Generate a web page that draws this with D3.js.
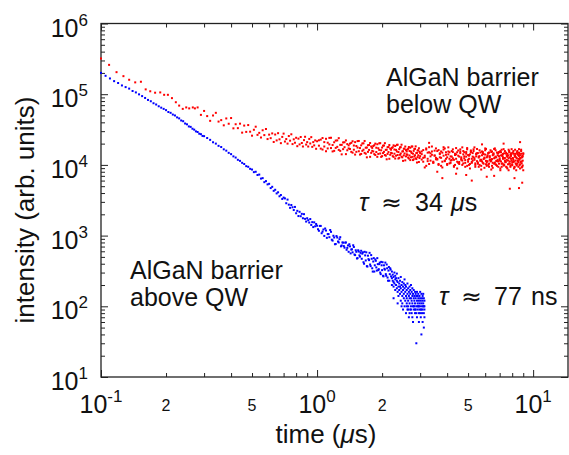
<!DOCTYPE html>
<html>
<head>
<meta charset="utf-8">
<script src="https://cdn.jsdelivr.net/npm/d3@7"></script>
<style>
  body { margin: 0; background: #fff; }
  text { font-family: "Liberation Sans", Arial, sans-serif; fill: #111; }
</style>
</head>
<body>
<div id="chart"></div>
<script>
// rows: [time (µs), intensity, intensity, ...]
const blueRows = [
  [0.100,200000],[0.105,182000],[0.110,167000],[0.115,153000],[0.120,144000],[0.125,133000],[0.130,126000],
  [0.135,120000],[0.140,111000],[0.145,106000],[0.150,99500],[0.155,94000],[0.160,88500],[0.165,83000],
  [0.170,79500],[0.175,74500],[0.180,71500],[0.185,67500],[0.190,64500],[0.195,62000],[0.200,59500],
  [0.205,56000],[0.210,54500],[0.215,51500],[0.220,50000],[0.225,47000],[0.230,45500],[0.235,42500],
  [0.240,41500],[0.245,38500],[0.250,37500],[0.255,35000],[0.260,34500],[0.265,32500],[0.270,31500],
  [0.275,29800],[0.280,29200],[0.285,27600],[0.290,27200],[0.295,25700],[0.300,25500],
  [0.31,24000],[0.32,22600],[0.33,20900],[0.34,20000],[0.35,18600],[0.36,17900],[0.37,16600],[0.38,15900],
  [0.39,14800],[0.40,14200],[0.41,13200],[0.42,12700],[0.43,11800],[0.44,11400],[0.45,10700],[0.46,10300],
  [0.47,9600],[0.48,9400],[0.49,8800],[0.50,8600],[0.51,7900],[0.52,8000],[0.53,7200],[0.54,7300],
  [0.55,6400],[0.56,6500],[0.57,5700],[0.58,5900],[0.59,5300],[0.60,5400],[0.61,4700],[0.62,4900],
  [0.63,4300],[0.64,4450],[0.65,3950],[0.66,4100],[0.67,3600],[0.68,3750],[0.69,3300],[0.70,3450],
  [0.71,3360],[0.72,2870],[0.73,3230],[0.74,2740],[0.75,2470],[0.76,2710],[0.77,2515],[0.78,2300],
  [0.79,2545],[0.80,2070],[0.81,2240],[0.82,1890],[0.83,2170],[0.84,1880],[0.85,2030],[0.86,1760],
  [0.87,2010],[0.88,1725],[0.89,1580],[0.90,1760],[0.91,1650],[0.92,1530],[0.93,1715],[0.94,1415],
  [0.95,1550],[0.96,1320],[0.97,1540],[0.98,1355],[0.99,1460],
  [1.00,1380],[1.01,1230],[1.02,1170],[1.03,1370],[1.04,1370],[1.05,1080],[1.06,1140],[1.07,1220],
  [1.08,990],[1.09,1260],[1.10,1180],[1.11,930],[1.12,1050],[1.13,1050],[1.14,950],[1.15,1200],
  [1.16,1130],[1.17,875],[1.18,850],[1.19,995],[1.20,940],[1.21,755],[1.22,760],[1.23,985],[1.24,940],
  [1.25,825],[1.26,800],[1.27,890],[1.28,950],[1.29,705],[1.30,725],[1.31,800],[1.32,795],[1.33,710],
  [1.34,675],[1.35,795],[1.36,800],[1.37,630],[1.38,670],[1.39,725],[1.40,590],[1.41,755],[1.42,705],
  [1.43,560],[1.44,635],[1.45,640],[1.46,580],[1.47,730],[1.48,690],[1.49,540],[1.50,530],[1.51,620],
  [1.52,590],[1.53,475],[1.54,480],[1.55,620],[1.56,595],[1.57,525],[1.58,505],[1.59,570],[1.60,610],
  [1.61,470],[1.62,555],[1.63,580],[1.64,420],[1.65,400],[1.66,590],[1.67,525],[1.68,445],[1.69,580],
  [1.70,370],[1.71,365],[1.72,520],[1.73,465],[1.74,450],[1.75,570],[1.76,390],[1.77,370],[1.78,530],
  [1.79,470],[1.80,345],[1.81,310],[1.82,430],[1.83,480],[1.84,310],[1.85,380],[1.86,460],[1.87,440],
  [1.88,355],[1.89,320],[1.90,480],[1.91,395],[1.92,325],[1.93,335],[1.94,395],[1.95,415],[1.96,300],
  [1.97,285],[1.98,425],[1.99,380],[2.00,325],[2.01,420],[2.02,270],[2.03,265],[2.04,380],[2.05,340],
  [2.06,330],[2.07,415],[2.08,285],[2.09,270],[2.10,390],[2.11,345],[2.12,255],[2.13,230],[2.14,320],
  [2.15,360],[2.16,230],[2.17,285],[2.18,345],[2.19,330],[2.20,265],
  [2.22,250,310,200],[2.24,230,280],[2.26,260,190,220,130],[2.28,300,210],[2.30,240,170,270],[2.32,200,250],
  [2.34,180,230,290],[2.36,220,160,110],[2.38,250,190,140],[2.40,210,170],[2.42,230,150,190],[2.44,180,120,260],
  [2.46,200,160,100],[2.48,140,220,110],[2.50,190,170,90],[2.52,150,210,130],[2.54,180,100,240],[2.56,160,120,200],
  [2.58,140,190,80],[2.60,170,110,130,100],[2.62,210,150,90],[2.64,120,180,100,90],[2.66,160,140,70],
  [2.68,190,110,130,80],[2.70,150,90,170],[2.72,130,200,100,90],[2.74,160,120,80],[2.76,140,180,110,70],
  [2.78,100,150,60],[2.80,170,130,90,100],[2.82,120,140,100],[2.84,160,110,80,90],[2.86,130,90,150],
  [2.88,30,140,100,80],[2.90,120,160,70],[2.92,110,90,140,100],[2.94,150,100,130],[2.96,120,80,60,100],
  [2.98,140,110,90],[3.00,130,100,160,80],[3.02,120,90,70],[3.04,150,110,40,90],[3.06,100,130,80],
  [3.08,120,90,140,60],[3.10,110,150,100],[3.12,130,80,50,100],[3.14,120,100,90,70]
];

const redRows = [
  [0.100,320000],[0.109,260000],[0.118,205000],[0.127,180000],[0.135,160000],[0.144,147000],[0.153,150000],
  [0.161,117000],[0.169,110000],[0.178,105000],[0.188,106000],[0.196,98000],[0.204,98000],[0.213,88000],
  [0.222,77000],[0.230,69000],[0.239,62000],[0.248,65000],[0.256,63000],[0.266,65000],[0.272,63000],
  [0.28,65000],[0.29,51000],[0.30,58000],[0.31,49000],[0.32,42000],[0.33,50000],[0.34,54500],[0.35,41000],
  [0.36,43000],[0.37,36300],[0.38,45400],[0.39,38200],[0.40,46000],[0.41,32900],[0.42,37600],[0.43,33100],
  [0.44,38300],[0.45,28600],[0.46,36000],[0.47,29300],[0.48,36600],[0.49,29500],[0.50,25900],[0.51,31400],
  [0.52,34700],[0.53,26600],[0.54,28400],[0.55,24400],[0.56,30900],[0.57,26400],[0.58,32200],[0.59,23200],
  [0.60,26800],[0.61,23900],[0.62,27900],[0.63,21100],[0.64,26900],[0.65,22200],[0.66,28100],[0.67,23000],
  [0.68,20300],[0.69,24900],[0.70,27700],[0.71,21400],[0.72,23200],[0.73,20000],[0.74,25600],[0.75,22000],
  [0.76,27100],[0.77,19700],[0.78,23000],[0.79,20600],[0.80,24200],[0.81,18400],[0.82,23500],[0.83,19500],
  [0.84,24800],[0.85,20400],[0.86,18200],[0.87,22400],[0.88,25000],[0.89,19400],[0.90,21000],[0.91,18200],
  [0.92,23300],[0.93,20100],[0.94,24700],[0.95,18000],[0.96,21000],[0.97,18900],[0.98,22200],[0.99,16900],
  [1.00,21600],
  [1.02,22300,18700],[1.04,17000,22800],[1.06,24000,16500],[1.08,18200,21000],[1.10,15600,23400],
  [1.12,20600,17100],[1.14,24100,19500],[1.16,17300,24200],[1.18,19100,15500],[1.20,15800,20900],
  [1.22,22100,17400],[1.24,18000,22200],[1.26,23900,16300],[1.28,15800,19200],[1.30,19200,14100],
  [1.32,16700,20800],[1.34,20900,17800],[1.36,14200,22200],[1.38,19700,16100],[1.40,17100,18900],
  [1.42,20000,16800],[1.44,15300,20500],[1.46,21600,14900],[1.48,16400,18800],[1.50,14000,21000],
  [1.52,18500,15300],[1.54,21700,17600],[1.56,15600,21800],[1.58,17300,14000],[1.60,14300,18900],
  [1.62,20100,15800],[1.64,16400,20200],[1.66,21800,14800],[1.68,14400,17500],[1.70,17600,12800],
  [1.72,15300,19000],[1.74,19100,16300],[1.76,13000,20400],[1.78,18200,14800],[1.80,15800,17400],
  [1.82,18500,15500],[1.84,14200,19000],[1.86,20000,13800],[1.88,15200,17500],[1.90,13000,19600],
  [1.92,17200,14300],[1.94,20200,16300],[1.96,14500,20300],[1.98,16100,13000],[2.00,13300,17600],
  [2.02,18700,14700],[2.04,15300,18800],[2.06,20300,13800],[2.08,13500,16300],[2.10,16400,12000],
  [2.12,14300,17800],[2.14,17900,15200],[2.16,12200,19100],[2.18,17000,13900],[2.20,14800,16400],
  [2.22,17400,14600],[2.24,13300,17800],[2.26,18900,13000],[2.28,14400,16500],[2.30,12300,18500],
  [2.32,16300,13500],[2.34,19200,15500],[2.36,13800,19300],[2.38,15200,12300],[2.40,12600,16700],
  [2.42,17700,13900],[2.44,14500,17800],[2.46,19300,13100],[2.48,12800,15500],[2.50,15600,11400],
  [2.52,13600,16900],[2.54,17000,14500],[2.56,11600,18200],[2.58,16200,13200],[2.60,14100,15500],
  [2.62,16500,13900],[2.64,12700,16900],[2.66,17900,12300],[2.68,13600,15700],[2.70,11700,17500],
  [2.72,15400,12800],[2.74,18200,14700],[2.76,13000,18200],[2.78,14400,11700],[2.80,12000,15800],
  [2.82,16800,13200],[2.84,13700,16900],[2.86,18300,12400],[2.88,12100,14700],[2.90,14800,10800],
  [2.92,12900,16000],[2.94,16100,13700],[2.96,11000,17200],[2.98,15300,12500],[3.00,13300,14700],
  [3.05,15500,11900,14200],[3.10,11100,16200,12600],[3.15,13500,12800,9200],[3.20,17100,9700,16500],
  [3.25,12200,14900,11300],[3.30,10300,17800,15100],[3.35,14600,11500,13200],[3.40,15500,13900,18200],
  [3.45,11100,10700,10800],[3.50,13500,15900,13600],[3.55,17100,12600,12000],[3.60,12200,11900,15700],
  [3.65,10300,16200,10000],[3.70,14600,12800,14200],[3.75,15500,9700,12600],[3.80,11100,14900,9200],
  [3.85,13500,17800,16500],[3.90,17100,11500,11300],[3.95,12200,13900,15100],
  [4.00,10000,10300,12800],[4.05,14100,15500,17700],[4.10,15100,12200,10500],[4.15,10700,11500,13200],
  [4.20,13100,15700,11700],[4.25,16600,12400,15200],[4.30,11800,9400,9700],[4.35,10000,14400,13800],
  [4.40,14100,17300,12200],[4.45,15100,11100,8900],[4.50,10700,13500,16000],[4.55,13100,10300,11000],
  [4.60,16600,15500,14700],[4.65,11800,12200,12800],[4.70,10000,11500,17700],[4.75,14100,15700,10500],
  [4.80,15100,12400,13200],[4.85,10700,9400,11700],[4.90,13100,14400,15200],[4.95,16600,17300,9700],
  [5.00,11800,11100,13800],[5.05,10000,13500,12200],[5.10,14100,10300,8900],[5.15,15100,15500,16000],
  [5.20,10700,12200,11000],[5.25,13100,11500,14700],[5.30,16600,15700,12800],[5.35,11800,12400,17700],
  [5.40,10000,9400,10500],[5.45,14100,14400,13200],
  [5.50,14600,16800,11300],[5.55,10400,10800,14700],[5.60,12700,13100,9400],[5.65,16100,10000,13300],
  [5.70,11400,15000,11800],[5.75,9700,11800,8600],[5.80,13700,11200,15500],[5.85,14600,15200,10700],
  [5.90,10400,12100,14200],[5.95,12700,9100,12400],[6.00,16100,14000,17100],[6.05,11400,16800,10200],
  [6.10,9700,10800,12800],[6.15,13700,13100,11300],[6.20,14600,10000,14700],[6.25,10400,15000,9400],
  [6.30,12700,11800,13300],[6.35,16100,11200,11800],[6.40,11400,15200,8600],[6.45,9700,12100,15500],
  [6.50,13700,9100,10700],[6.55,14600,14000,14200],[6.60,10400,16800,12400],[6.65,12700,10800,17100],
  [6.70,16100,13100,10200],[6.75,11400,10000,12800],[6.80,9700,15000,11300],[6.85,13700,11800,14700],
  [6.90,14600,11200,9400],[6.95,10400,15200,13300],
  [7.00,12400,11800,11500],[7.05,15700,8900,8400],[7.10,11200,13600,15100],[7.15,9400,16400,10400],
  [7.20,13400,10500,13900],[7.25,14300,12800,12200],[7.30,10200,9800,16700],[7.35,12400,14600,9900],
  [7.40,15700,11500,12500],[7.45,11200,10900,11000],[7.50,9400,14900,14400],[7.55,13400,11800,9200],
  [7.60,14300,8900,13000],[7.65,10200,13600,11500],[7.70,12400,16400,8400],[7.75,15700,10500,15100],
  [7.80,11200,12800,10400],[7.85,9400,9800,13900],[7.90,13400,14600,12200],[7.95,14300,11500,16700],
  [8.00,10200,10900,9900],[8.05,12400,14900,12500],[8.10,15700,11800,11000],[8.15,11200,8900,14400],
  [8.20,9400,13600,9200],[8.25,13400,16400,13000],[8.30,14300,10500,11500],[8.35,10200,12800,8400],
  [8.40,12400,9800,15100],[8.45,15700,14600,10400],[8.50,11200,11500,13900],[8.55,9400,10900,12200],
  [8.60,13400,14900,16700],[8.65,14300,11800,9900],[8.70,10200,8900,12500],[8.75,12400,13600,11000],
  [8.80,15700,16400,14400],[8.85,11200,10500,9200],[8.90,9400,12800,13000],[8.95,13400,9800,11500],
  [9.00,14300,14600,8400]
];

const redOutliers = [
  [3.3,20500],[3.6,8000],[3.8,6500],[4.4,7500],[4.9,7200],[5.2,6000],[5.8,19500],[6.1,6800],
  [6.6,7000],[7.3,20000],[7.8,4600],[8.2,6500],[8.6,4700],[8.7,21000],[8.9,5600]
];

const xMajor = [0.1, 1, 10];
const xMinorLabeled = [0.2, 0.5, 2, 5];
const yMajor = [1e1, 1e2, 1e3, 1e4, 1e5, 1e6];

const width = 569;
const height = 455;
const box = { left: 101, right: 568, top: 23.5, bottom: 377 };

const svg = d3.select("#chart")
  .append("svg")
  .attr("width", width)
  .attr("height", height);

const x = d3.scaleLog().domain([0.1, 14.5]).range([box.left, box.right]);
const y = d3.scaleLog().domain([10, 1e6]).range([box.bottom, box.top]);

const isMajor = d => Math.abs(Math.log10(d) - Math.round(Math.log10(d))) < 1e-6;
const xTicks = x.ticks();
const yTicks = y.ticks();

function drawTicks(axisFn, scale, values, size, tx, ty) {
  svg.append("g")
    .attr("transform", `translate(${tx},${ty})`)
    .call(axisFn(scale).tickValues(values).tickSize(-size).tickSizeOuter(0).tickFormat(""))
    .call(g => g.select(".domain").remove())
    .selectAll("line")
    .attr("stroke", "#222")
    .attr("stroke-width", 1);
}

// inward ticks on all four sides
drawTicks(d3.axisBottom, x, xTicks.filter(isMajor), 7, 0, box.bottom);
drawTicks(d3.axisBottom, x, xTicks.filter(d => !isMajor(d)), 4, 0, box.bottom);
drawTicks(d3.axisTop, x, xTicks.filter(isMajor), 7, 0, box.top);
drawTicks(d3.axisTop, x, xTicks.filter(d => !isMajor(d)), 4, 0, box.top);
drawTicks(d3.axisLeft, y, yTicks.filter(isMajor), 7, box.left, 0);
drawTicks(d3.axisLeft, y, yTicks.filter(d => !isMajor(d)), 4, box.left, 0);
drawTicks(d3.axisRight, y, yTicks.filter(isMajor), 7, box.right, 0);
drawTicks(d3.axisRight, y, yTicks.filter(d => !isMajor(d)), 4, box.right, 0);

svg.append("rect")
  .attr("x", box.left)
  .attr("y", box.top)
  .attr("width", box.right - box.left)
  .attr("height", box.bottom - box.top)
  .attr("fill", "none")
  .attr("stroke", "#222")
  .attr("stroke-width", 1.3);

const flatten = rows => rows.flatMap(([t, ...vals]) => vals.map(v => ({ t, v })));
const redPts = flatten(redRows.concat(redOutliers));
const bluePts = flatten(blueRows);

svg.append("g")
  .selectAll("rect")
  .data(redPts)
  .join("rect")
  .attr("x", d => x(d.t) - 1)
  .attr("y", d => y(d.v) - 1)
  .attr("width", 2)
  .attr("height", 2)
  .attr("fill", "#ff0000");

svg.append("g")
  .selectAll("rect")
  .data(bluePts)
  .join("rect")
  .attr("x", d => x(d.t) - 1)
  .attr("y", d => y(d.v) - 1)
  .attr("width", 2)
  .attr("height", 2)
  .attr("fill", "#0000ff");

// tick labels with superscript exponents
svg.append("g")
  .selectAll("text")
  .data(xMajor)
  .join("text")
  .attr("x", d => x(d))
  .attr("y", 413)
  .attr("text-anchor", "middle")
  .style("font-size", "25px")
  .each(function (d) {
    const t = d3.select(this);
    t.append("tspan").text("10");
    t.append("tspan").attr("dy", -11).style("font-size", "17px").text(Math.round(Math.log10(d)));
  });

svg.append("g")
  .selectAll("text")
  .data(xMinorLabeled)
  .join("text")
  .attr("x", d => x(d))
  .attr("y", 411)
  .attr("text-anchor", "middle")
  .style("font-size", "16px")
  .text(d => String(d).replace("0.", ""));

svg.append("g")
  .selectAll("text")
  .data(yMajor)
  .join("text")
  .attr("x", 88)
  .attr("y", d => y(d) + 13)
  .attr("text-anchor", "end")
  .style("font-size", "25px")
  .each(function (d) {
    const t = d3.select(this);
    t.append("tspan").text("10");
    t.append("tspan").attr("dy", -11).style("font-size", "17px").text(Math.round(Math.log10(d)));
  });

// axis titles
svg.append("text")
  .attr("x", 326)
  .attr("y", 443)
  .attr("text-anchor", "middle")
  .style("font-size", "26px")
  .call(t => {
    t.append("tspan").text("time (");
    t.append("tspan").style("font-style", "italic").text("μ");
    t.append("tspan").text("s)");
  });

svg.append("text")
  .attr("transform", "translate(34,210) rotate(-90)")
  .attr("text-anchor", "middle")
  .style("font-size", "26px")
  .text("intensity (arb. units)");

// annotations
function label(xPos, yPos, text) {
  svg.append("text")
    .attr("x", xPos)
    .attr("y", yPos)
    .style("font-size", "25px")
    .text(text);
}

label(386, 86, "AlGaN barrier");
label(386, 113, "below QW");
label(130, 279, "AlGaN barrier");
label(130, 306, "above QW");

// lifetime labels: pieces placed like typeset math
function tauLabel(yPos, parts) {
  const t = svg.append("text").attr("y", yPos).style("font-size", "25px");
  parts.forEach(([txt, xPos, italic, family]) => {
    const s = t.append("tspan").text(txt);
    if (xPos != null) s.attr("x", xPos);
    if (italic) s.style("font-style", "italic");
    if (family) s.style("font-family", family);
  });
}

tauLabel(211, [["τ", 359, true], ["≈", 381, false, "DejaVu Sans"], ["34", 415], ["μ", 451, true], ["s", null]]);
tauLabel(305, [["τ", 439, true], ["≈", 461, false, "DejaVu Sans"], ["77", 494], ["ns", 531]]);
</script>
</body>
</html>
